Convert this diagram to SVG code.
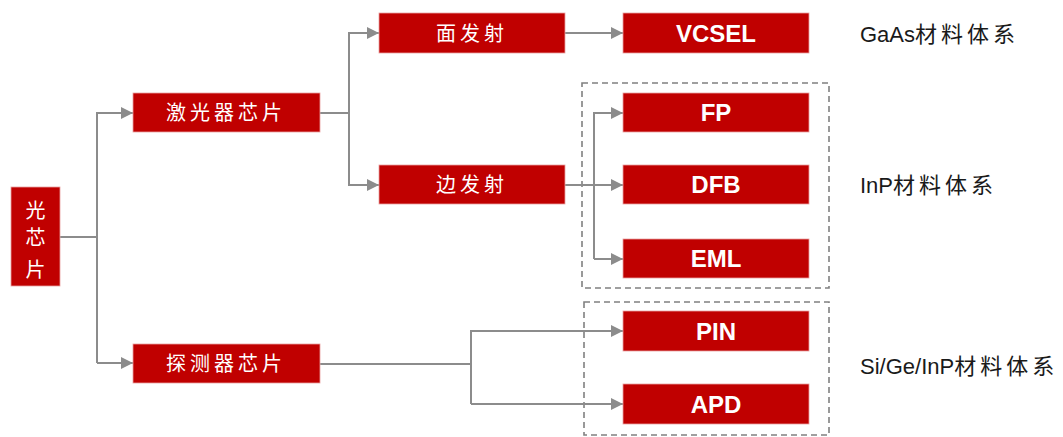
<svg xmlns="http://www.w3.org/2000/svg" width="1063" height="437" viewBox="0 0 1063 437">
<style>
.box{fill:#C00000;stroke:#E8A0A0;stroke-width:0.8}
.cn{font-family:"Noto Sans CJK SC",sans-serif;font-size:20px;fill:#fff;text-anchor:middle;letter-spacing:4px}
.en{font-family:"Liberation Sans",Arial,sans-serif;font-weight:bold;font-size:24px;fill:#fff;text-anchor:middle}
.lbl{font-family:"Liberation Sans","Noto Sans CJK SC",sans-serif;font-size:22px;fill:#1a1a1a}
.ln{fill:none;stroke:#8C8C8C;stroke-width:2}
.dash{fill:none;stroke:#808080;stroke-width:1.6;stroke-dasharray:6,4}
</style>
<defs>
<marker id="ah" viewBox="0 0 10 10" refX="10" refY="5" markerWidth="6" markerHeight="6" markerUnits="strokeWidth" orient="auto">
<path d="M0,0 L10,5 L0,10 z" fill="#8C8C8C"/>
</marker>
</defs>
<rect width="1063" height="437" fill="#fff"/>
<g id="groups">
<rect class="dash" x="582" y="83" width="247" height="205"/>
<rect class="dash" x="584" y="302" width="245" height="133"/>
</g>
<g id="connectors">
<path class="ln" d="M60,237 H97"/>
<path class="ln" d="M97,363 V113 H133" marker-end="url(#ah)"/>
<path class="ln" d="M97,363 H133" marker-end="url(#ah)"/>
<path class="ln" d="M320,113 H349"/>
<path class="ln" d="M349,186 V33 H379" marker-end="url(#ah)"/>
<path class="ln" d="M349,113 V185 H379" marker-end="url(#ah)"/>
<path class="ln" d="M565,33 H623" marker-end="url(#ah)"/>
<path class="ln" d="M565,185 H623" marker-end="url(#ah)"/>
<path class="ln" d="M594,259 V113 H623" marker-end="url(#ah)"/>
<path class="ln" d="M594,259 H623" marker-end="url(#ah)"/>
<path class="ln" d="M320,364 H471"/>
<path class="ln" d="M471,404 V331 H623" marker-end="url(#ah)"/>
<path class="ln" d="M471,404 H623" marker-end="url(#ah)"/>
</g>
<g id="n-root"><rect class="box" x="11" y="187" width="49" height="99"/>
<text class="cn" x="35.5" y="218" style="letter-spacing:0">光</text>
<text class="cn" x="35.5" y="245" style="letter-spacing:0">芯</text>
<text class="cn" x="35.5" y="277" style="letter-spacing:0">片</text></g>
<g id="n-laser"><rect class="box" x="133" y="93" width="187" height="39"/><text class="cn" x="226" y="120">激光器芯片</text></g>
<g id="n-detector"><rect class="box" x="133" y="344" width="187" height="39"/><text class="cn" x="226" y="371">探测器芯片</text></g>
<g id="n-surface"><rect class="box" x="379" y="13" width="186" height="40"/><text class="cn" x="472" y="40.5">面发射</text></g>
<g id="n-edge"><rect class="box" x="379" y="165" width="186" height="39"/><text class="cn" x="472" y="192">边发射</text></g>
<g id="n-vcsel"><rect class="box" x="623" y="13" width="186" height="40"/><text class="en" x="716" y="41.5">VCSEL</text></g>
<g id="n-fp"><rect class="box" x="623" y="93" width="186" height="39"/><text class="en" x="716" y="121">FP</text></g>
<g id="n-dfb"><rect class="box" x="623" y="165" width="186" height="39"/><text class="en" x="716" y="193">DFB</text></g>
<g id="n-eml"><rect class="box" x="623" y="239" width="186" height="39"/><text class="en" x="716" y="267">EML</text></g>
<g id="n-pin"><rect class="box" x="623" y="311" width="186" height="40"/><text class="en" x="716" y="339.5">PIN</text></g>
<g id="n-apd"><rect class="box" x="623" y="384" width="186" height="40"/><text class="en" x="716" y="412.5">APD</text></g>
<g id="labels">
<text class="lbl" x="860" y="42">GaAs<tspan letter-spacing="4">材料体系</tspan></text>
<text class="lbl" x="860" y="193">InP<tspan letter-spacing="4">材料体系</tspan></text>
<text class="lbl" x="860" y="374">Si/Ge/InP<tspan letter-spacing="4">材料体系</tspan></text>
</g>
</svg>
